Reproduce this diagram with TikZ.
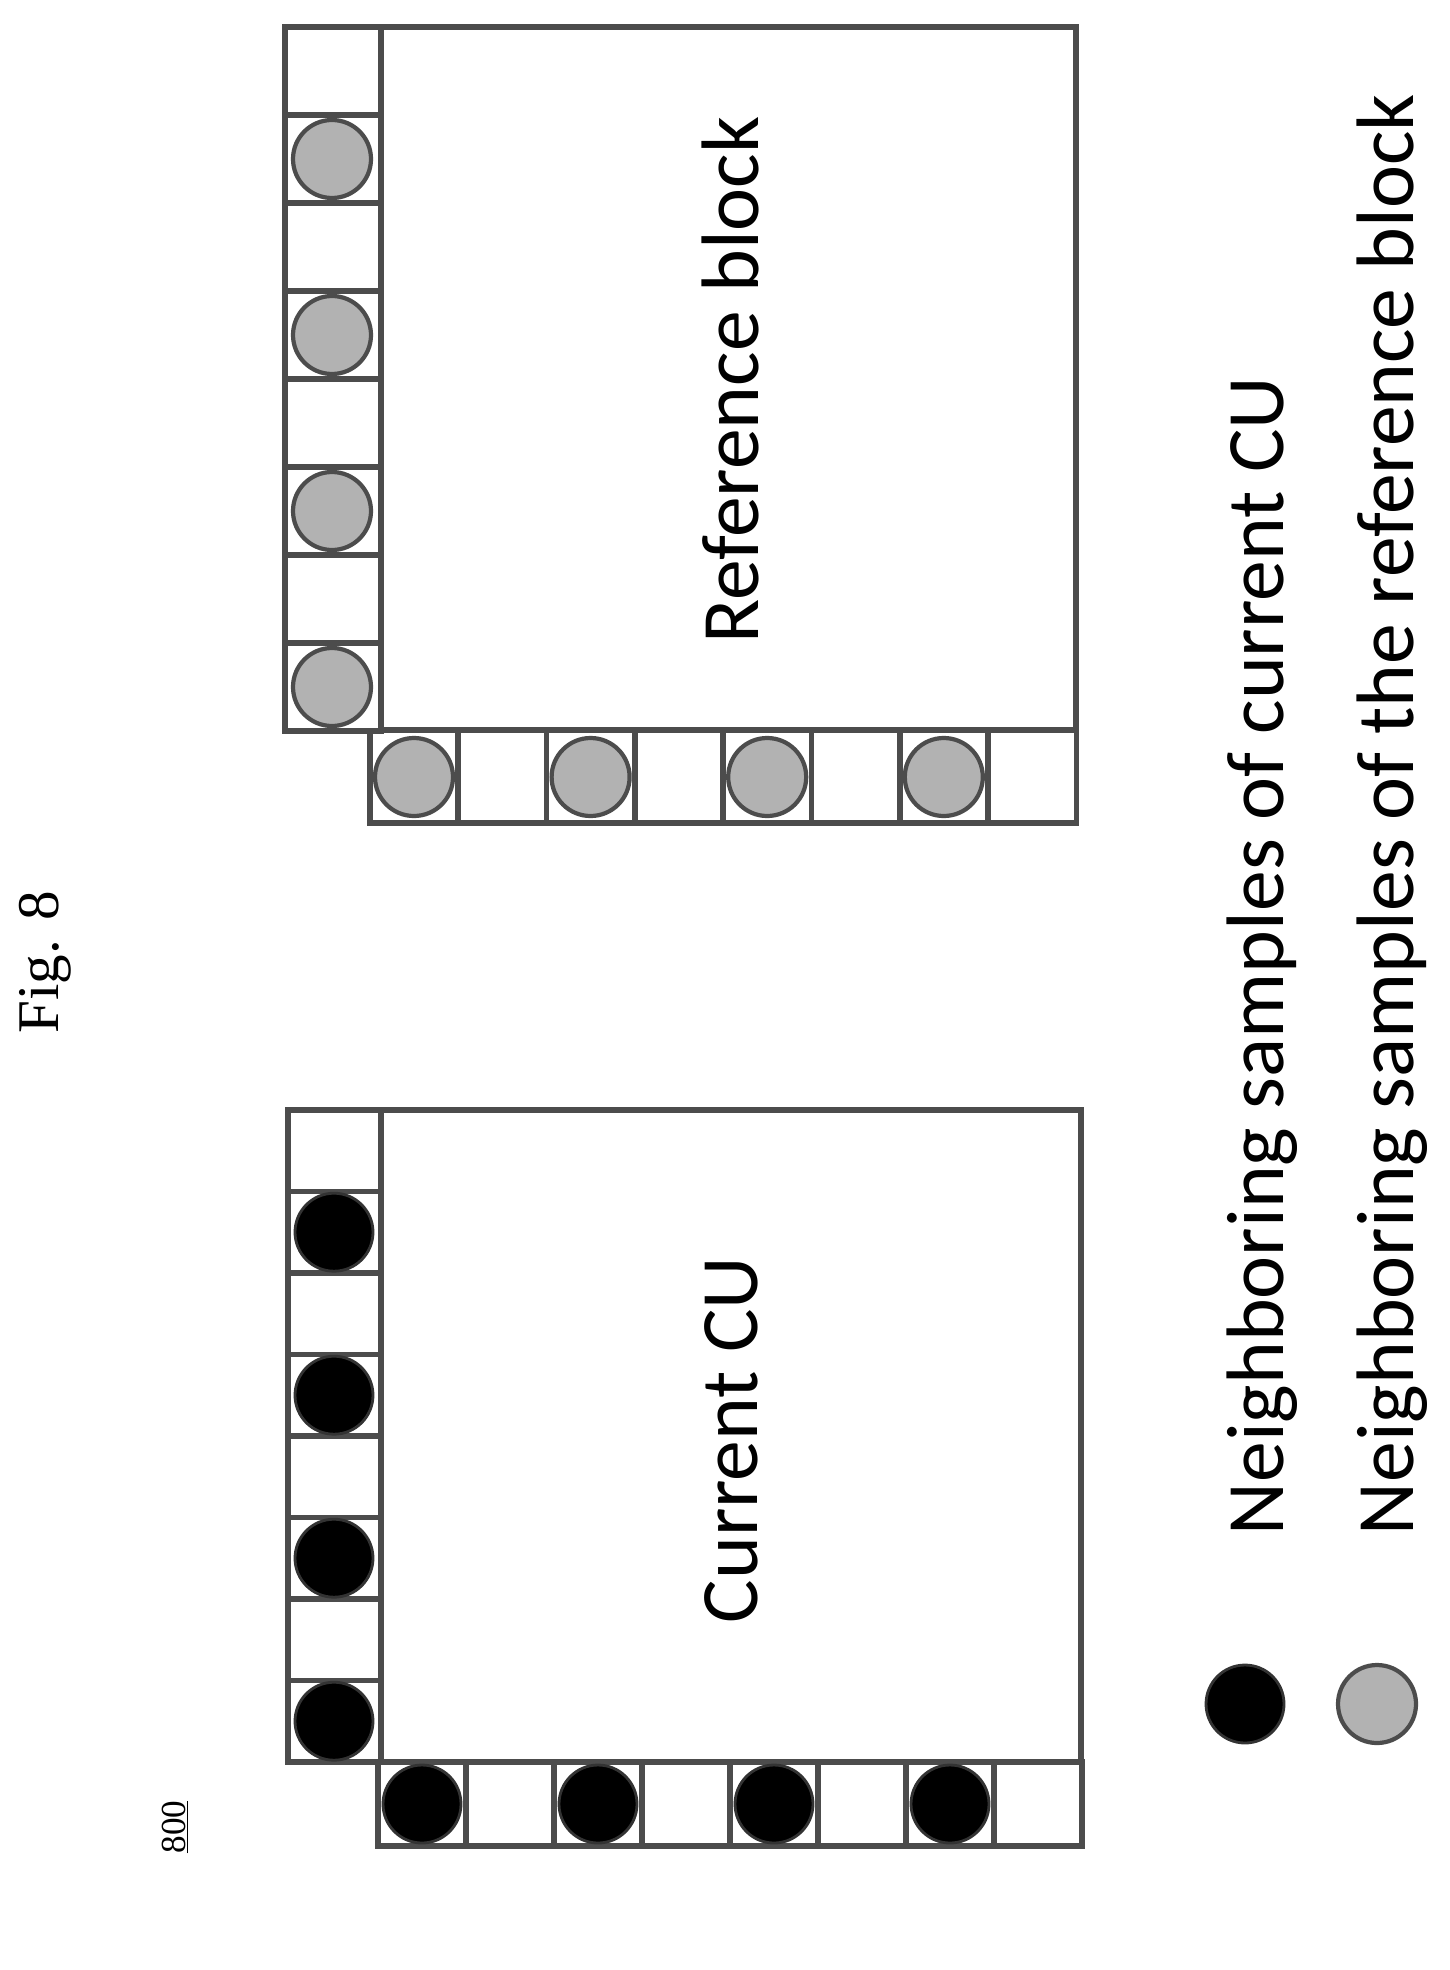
\documentclass[tikz,border=0pt]{standalone}
\usepackage{fontspec}
\setmainfont{Liberation Serif}
\newfontfamily\labelfont{Carlito}
\begin{document}
\begin{tikzpicture}[x=0.025cm,y=-0.025cm,
    cellbox/.style={draw=black!70,line width=4pt,fill=white},
    curdot/.style={circle,fill=black,draw=black!80,line width=2pt,minimum size=78*0.025cm,inner sep=0pt},
    refdot/.style={circle,fill=black!30,draw=black!70,line width=3pt,minimum size=78*0.025cm,inner sep=0pt},
    blocklabel/.style={font=\labelfont\fontsize{58}{60}\selectfont,rotate=90}]
\useasboundingbox (0,0) rectangle (1449,1970);
% current CU
\draw[cellbox] (381,1110) rectangle (1081,1762);
\foreach \i in {0,...,7}{
    \draw[cellbox] (288,1110+\i*81.5) rectangle (381,1110+\i*81.5+81.5);
    \draw[cellbox] (378+\i*88,1762) rectangle (378+\i*88+88,1846);
}
\foreach \i in {1,3,5,7}
    \node[curdot] (cl\i) at (334,1110+\i*81.5+40.7) {};
\foreach \i in {0,2,4,6}
    \node[curdot] (cb\i) at (422+\i*88,1804) {};
\node[blocklabel] (cur) at (731,1440) {Current CU};
% reference block
\draw[cellbox] (381,27) rectangle (1076,730);
\foreach \i in {0,...,7}{
    \draw[cellbox] (285,27+\i*88) rectangle (381,27+\i*88+88);
    \draw[cellbox] (370+\i*88.3,730) rectangle (370+\i*88.3+88.3,823);
}
\foreach \i in {1,3,5,7}
    \node[refdot] (rl\i) at (332,27+\i*88+44) {};
\foreach \i in {0,2,4,6}
    \node[refdot] (rb\i) at (414+\i*88.3,777) {};
\node[blocklabel] (ref) at (730,380) {Reference block};
% legend
\node[curdot] (lc) at (1245,1704) {};
\node[refdot] (lr) at (1377,1704) {};
\node[blocklabel,anchor=west] (lct) at (1262,1540) {Neighboring samples of current CU};
\node[blocklabel,anchor=west] (lrt) at (1392,1540) {Neighboring samples of the reference block};
% captions
\node[rotate=90,font=\fontsize{42}{44}\selectfont] (fig) at (45,962) {Fig. 8};
\node[rotate=90,font=\fontsize{25}{27}\selectfont] (num) at (175,1827) {\underline{800}};
\end{tikzpicture}
\end{document}
